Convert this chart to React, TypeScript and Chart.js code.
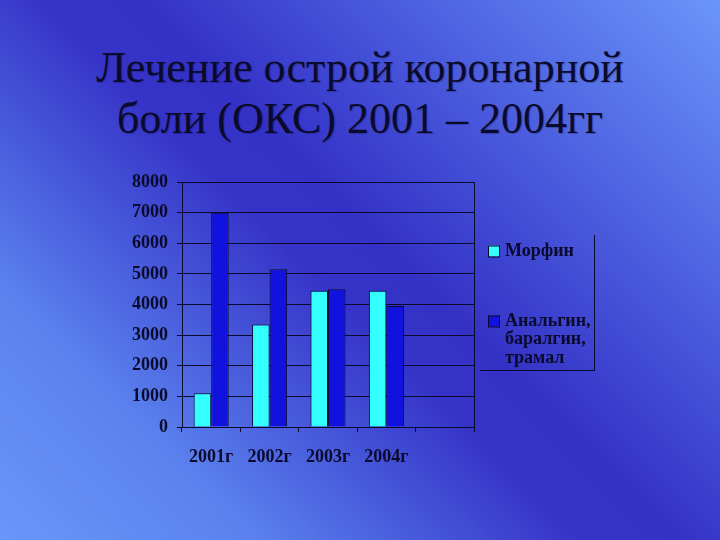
import React, { useEffect, useRef } from "react";
import { Chart, registerables } from "chart.js";

Chart.register(...registerables);

const titleLines = ["Лечение острой коронарной", "боли (ОКС) 2001 – 2004гг"];
const categories = ["2001г", "2002г", "2003г", "2004г", ""];
const morphine = [1100, 3350, 4450, 4450, null];
const analgesics = [7000, 5150, 4500, 3950, null];
const seriesLabels = ["Морфин", "Анальгин, баралгин, трамал"];
const legendLines = [["Морфин"], ["Анальгин,", "баралгин,", "трамал"]];
const yTicks = [0, 1000, 2000, 3000, 4000, 5000, 6000, 7000, 8000];

const INK = "#0a0a2c";
const CYAN = "#33ffff";
const BLUE = "#1212de";
const FONT = "'Liberation Serif', 'Times New Roman', serif";

const framePlugin = {
  id: "frame",
  afterDraw(chart: any) {
    const { ctx, chartArea } = chart;
    ctx.save();
    ctx.strokeStyle = INK;
    ctx.lineWidth = 1;
    ctx.beginPath();
    ctx.moveTo(Math.round(chartArea.right) + 0.5, chartArea.top);
    ctx.lineTo(Math.round(chartArea.right) + 0.5, chartArea.bottom);
    ctx.stroke();

    // legend
    const lx = chartArea.right + 14;
    const colors = [CYAN, BLUE];
    const firstY = [251, 321];
    ctx.font = `bold 18px ${FONT}`;
    ctx.textBaseline = "middle";
    ctx.textAlign = "left";
    legendLines.forEach((lines, i) => {
      const y = firstY[i];
      ctx.fillStyle = colors[i];
      ctx.fillRect(lx, y - 5.5, 11, 11);
      ctx.strokeStyle = INK;
      ctx.strokeRect(lx + 0.5, y - 5.5 + 0.5, 11, 11);
      ctx.fillStyle = INK;
      lines.forEach((t, j) => {
        ctx.fillText(t, lx + 17, y + j * 18.5);
      });
    });
    // legend frame (right & bottom edges)
    ctx.strokeStyle = INK;
    ctx.beginPath();
    ctx.moveTo(lx - 8, 370.5);
    ctx.lineTo(594.5, 370.5);
    ctx.lineTo(594.5, 235);
    ctx.stroke();
    ctx.restore();
  },
};

export default function App() {
  const ref = useRef<HTMLCanvasElement | null>(null);

  useEffect(() => {
    if (!ref.current) return;
    const chart = new Chart(ref.current, {
      type: "bar",
      data: {
        labels: categories,
        datasets: [
          {
            label: seriesLabels[0],
            data: morphine,
            backgroundColor: CYAN,
            borderColor: INK,
            borderWidth: 1,
          },
          {
            label: seriesLabels[1],
            data: analgesics,
            backgroundColor: BLUE,
            borderColor: INK,
            borderWidth: 1,
          },
        ],
      },
      options: {
        animation: false,
        responsive: false,
        layout: { padding: { left: 130, top: 182, right: 246, bottom: 73 } },
        plugins: {
          legend: { display: false },
          title: { display: false },
          tooltip: { enabled: false },
        },
        datasets: { bar: { categoryPercentage: 0.6, barPercentage: 1.0 } },
        scales: {
          x: {
            afterFit: (axis: any) => {
              axis.height = 40;
            },
            grid: {
              drawOnChartArea: false,
              offset: true,
              tickLength: 5,
              color: INK,
            },
            border: { display: true, color: INK },
            ticks: {
              color: INK,
              padding: 15,
              font: { family: FONT, size: 18, weight: "bold" },
            },
          },
          y: {
            min: 0,
            max: 8000,
            afterFit: (axis: any) => {
              axis.width = 52;
            },
            afterBuildTicks: (axis: any) => {
              axis.ticks = yTicks.map((v) => ({ value: v }));
            },
            grid: { color: INK, tickLength: 5, lineWidth: 1 },
            border: { display: true, color: INK },
            ticks: {
              color: INK,
              padding: 9,
              callback: (v: any) => String(v),
              font: { family: FONT, size: 18, weight: "bold" },
            },
          },
        },
      },
      plugins: [framePlugin],
    });
    return () => chart.destroy();
  }, []);

  return (
    <div
      style={{
        position: "fixed",
        left: 0,
        top: 0,
        width: 720,
        height: 540,
        overflow: "hidden",
        background:
          "linear-gradient(45deg, #6a96fa 0%, #5a82ee 20%, #3634c8 46%, #3432c6 54%, #4450d8 68%, #6a96fa 100%)",
      }}
    >
      <div
        style={{
          position: "absolute",
          left: 0,
          top: 42,
          width: 720,
          textAlign: "center",
          fontFamily: FONT,
          fontSize: 44,
          lineHeight: "51px",
          color: INK,
          textShadow: "1px 1px 1px rgba(0,0,40,0.25)",
        }}
      >
        {titleLines.map((t, i) => (
          <div key={i}>{t}</div>
        ))}
      </div>
      <canvas
        ref={ref}
        width={720}
        height={540}
        style={{ position: "absolute", left: 0, top: 0 }}
      />
    </div>
  );
}
